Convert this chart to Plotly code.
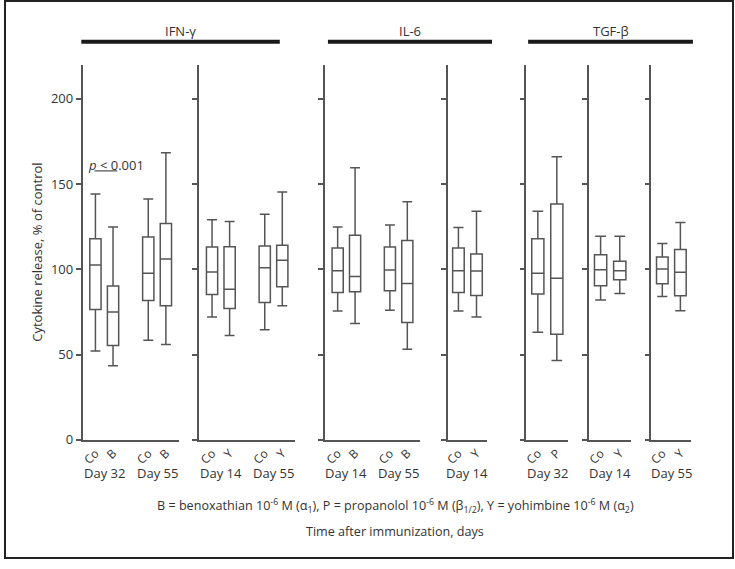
import plotly.graph_objects as go

W, H = 735, 569

# ---------------- data ----------------
cytokines = ["IFN-γ", "IL-6", "TGF-β"]
panel_days = [["Day 32", "Day 55"], ["Day 14", "Day 55"], ["Day 14", "Day 55"],
              ["Day 14"], ["Day 32"], ["Day 14"], ["Day 55"]]

box_panel = [0, 0, 0, 0, 1, 1, 1, 1, 2, 2, 2, 2, 3, 3, 4, 4, 5, 5, 6, 6]
box_day = [0, 0, 1, 1, 0, 0, 1, 1, 0, 0, 1, 1, 0, 0, 0, 0, 0, 0, 0, 0]
box_member = [0, 1, 0, 1, 0, 1, 0, 1, 0, 1, 0, 1, 0, 1, 0, 1, 0, 1, 0, 1]
box_label = ["Co", "B", "Co", "B", "Co", "Y", "Co", "Y", "Co", "B", "Co", "B",
             "Co", "Y", "Co", "P", "Co", "Y", "Co", "Y"]

lower = [52.1, 43.5, 58.5, 56.0, 72.1, 61.2, 64.6, 78.7, 75.6, 68.3, 76.0, 53.1,
         75.6, 72.1, 63.1, 46.6, 82.1, 85.8, 84.1, 75.8]
q1 = [76.4, 55.4, 81.8, 78.7, 85.2, 77.0, 80.6, 89.8, 86.4, 86.9, 87.5, 68.9,
      86.4, 84.6, 85.6, 62.0, 90.4, 93.9, 91.6, 84.5]
median = [102.5, 75.0, 97.7, 106.0, 98.5, 88.3, 101.0, 105.4, 99.2, 95.8, 99.6, 91.7,
          99.2, 99.1, 97.7, 94.8, 99.8, 99.2, 100.2, 98.3]
q3 = [117.9, 90.2, 118.9, 126.9, 113.1, 113.3, 113.7, 114.2, 112.5, 120.0, 113.1, 116.9,
      112.5, 109.0, 117.9, 138.3, 108.5, 104.8, 107.3, 111.6]
upper = [144.2, 124.8, 141.2, 168.3, 129.1, 128.1, 132.3, 145.4, 124.8, 159.5, 126.0, 139.6,
         124.6, 134.1, 134.1, 166.0, 119.4, 119.4, 115.2, 127.5]

y_ticks = [0, 50, 100, 150, 200]
p_label = "<i>p</i> < 0.001"
p_level = 157.7

# ---------------- layout helpers ----------------
def px(x):
    return x / W

def py(y):
    return 1 - y / H

panel_px = [(79, 175.7), (196.3, 292.7), (322.7, 418.3), (446, 486),
            (525.3, 567.3), (588.3, 630.7), (651, 691)]
y_dom = [py(447), py(65.7)]

LINE = "#555555"
TXT = "#333333"
FONT = "Open Sans"

fig = go.Figure()

for i in range(len(lower)):
    p = box_panel[i]
    xa = "x" if p == 0 else f"x{p+1}"
    ya = "y" if p == 0 else f"y{p+1}"
    fig.add_trace(go.Box(
        x=[3 * box_day[i] + box_member[i]],
        q1=[q1[i]], median=[median[i]], q3=[q3[i]],
        lowerfence=[lower[i]], upperfence=[upper[i]],
        xaxis=xa, yaxis=ya,
        width=0.64, whiskerwidth=0.88,
        fillcolor="rgba(0,0,0,0)",
        line=dict(color=LINE, width=1.5),
        boxpoints=False, showlegend=False, hoverinfo="skip",
    ))

layout = dict(
    width=W, height=H,
    margin=dict(l=0, r=0, t=0, b=0),
    paper_bgcolor="white", plot_bgcolor="white",
    font=dict(family=FONT, size=12, color=TXT),
    showlegend=False,
)

annotations = []
shapes = []

for p, (a, b) in enumerate(panel_px):
    sfx = "" if p == 0 else str(p + 1)
    nd = len(panel_days[p])
    rng = [-0.73, 4.73] if nd == 2 else [-0.6, 1.6]
    idx = [i for i in range(len(box_panel)) if box_panel[i] == p]
    layout["xaxis" + sfx] = dict(
        domain=[px(a), px(b)], range=rng, anchor="y" + sfx,
        showline=True, linecolor=LINE, linewidth=1.5,
        showgrid=False, zeroline=False, ticks="",
        tickvals=[3 * box_day[i] + box_member[i] for i in idx],
        ticktext=[box_label[i] for i in idx],
        tickangle=-45, tickfont=dict(size=12, color=TXT),
        fixedrange=True,
    )
    layout["yaxis" + sfx] = dict(
        domain=y_dom, range=[0, 220], anchor="x" + sfx,
        showline=True, linecolor=LINE, linewidth=1.5,
        showgrid=False, zeroline=False,
        ticks="outside", ticklen=5, tickwidth=1.5, tickcolor=LINE,
        tickvals=y_ticks, showticklabels=(p == 0),
        tickfont=dict(size=13, color=TXT),
        fixedrange=True,
    )
    for d, lab in enumerate(panel_days[p]):
        annotations.append(dict(
            x=3 * d + 0.5, xref="x" + sfx, y=py(481), yref="paper",
            text=lab, showarrow=False, font=dict(size=13, color=TXT),
            xanchor="center", yanchor="middle",
        ))

# cytokine header bars
bars = [(77.7, 277.3), (325.7, 490.7), (527, 692.7)]
for name, (a, b) in zip(cytokines, bars):
    shapes.append(dict(type="line", xref="paper", yref="paper",
                       x0=px(a), x1=px(b), y0=py(42.3), y1=py(42.3),
                       line=dict(color="#1a1a1a", width=4)))
    annotations.append(dict(x=px((a + b) / 2), y=py(31.5), xref="paper", yref="paper",
                            text=name, showarrow=False,
                            font=dict(size=13, color=TXT),
                            xanchor="center", yanchor="middle"))

# significance mark in first panel
shapes.append(dict(type="line", xref="x", yref="y", x0=-0.05, x1=1.24,
                   y0=p_level, y1=p_level, line=dict(color=LINE, width=1.3)))
annotations.append(dict(x=px(82), y=py(167.5), xref="paper", yref="paper",
                        text=p_label, showarrow=False, font=dict(size=13, color=TXT),
                        xanchor="left", yanchor="middle"))

# y-axis title
annotations.append(dict(x=px(33), y=py(256), xref="paper", yref="paper",
                        text="Cytokine release, % of control", textangle=-90,
                        showarrow=False, font=dict(size=13, color=TXT),
                        xanchor="center", yanchor="middle"))

# footnotes
annotations.append(dict(
    x=px(393.7), y=py(514), xref="paper", yref="paper",
    text="B = benoxathian 10<sup>-6</sup> M (α<sub>1</sub>), P = propanolol 10<sup>-6</sup> M "
         "(β<sub>1/2</sub>), Y = yohimbine 10<sup>-6</sup> M (α<sub>2</sub>)",
    showarrow=False, font=dict(size=12.6, color=TXT), xanchor="center", yanchor="middle"))
annotations.append(dict(
    x=px(393.5), y=py(540), xref="paper", yref="paper",
    text="Time after immunization, days",
    showarrow=False, font=dict(size=12.6, color=TXT), xanchor="center", yanchor="middle"))

# outer frame
shapes.append(dict(type="rect", xref="paper", yref="paper",
                   x0=px(1), x1=px(733), y0=py(567), y1=py(1),
                   line=dict(color="#222222", width=2)))

layout["annotations"] = annotations
layout["shapes"] = shapes
fig.update_layout(**layout)

fit_js = (
    "var de=document.documentElement,bd=document.body;"
    "de.style.margin='0';de.style.padding='0';de.style.overflow='hidden';"
    "bd.style.margin='0';bd.style.padding='0';bd.style.overflow='hidden';"
    "var gd=document.getElementById('{plot_id}');"
    "if(gd.parentElement){gd.parentElement.style.margin='0';gd.parentElement.style.lineHeight='0';}"
)

fig.write_html(
    "out.html",
    config={"responsive": False, "displayModeBar": False},
    post_script=fit_js,
)
